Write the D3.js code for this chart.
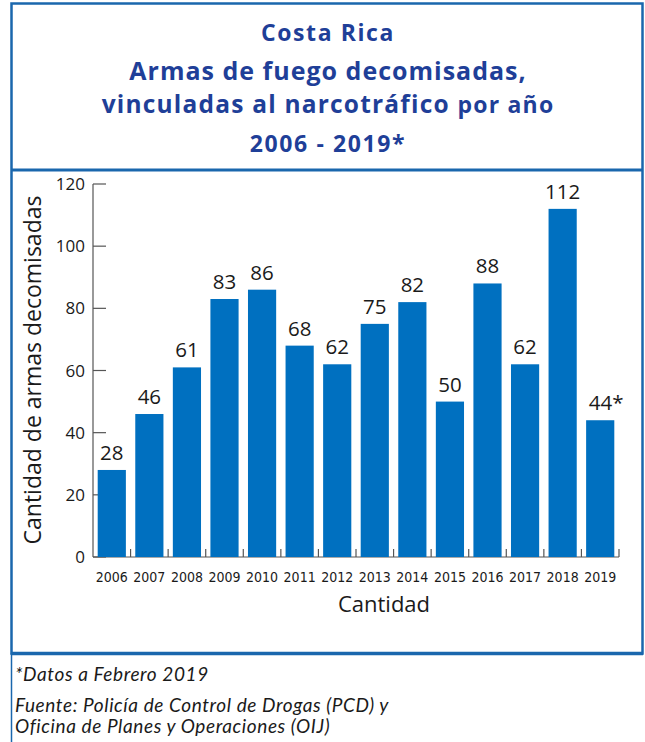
<!DOCTYPE html>
<html><head><meta charset="utf-8">
<script src="https://cdn.jsdelivr.net/npm/d3@7"></script>
<style>body{margin:0;background:#fff}svg{display:block}</style>
</head><body>
<script>
const years = ["2006","2007","2008","2009","2010","2011","2012","2013","2014","2015","2016","2017","2018","2019"];
const values = [28,46,61,83,86,68,62,75,82,50,88,62,112,44];
const valueLabels = ["28","46","61","83","86","68","62","75","82","50","88","62","112","44*"];
const yTicks = [0,20,40,60,80,100,120];
const titleLines = ["Costa Rica","Armas de fuego decomisadas,","vinculadas al narcotráfico  por año","2006 - 2019*"];
const notes = ["*Datos a Febrero 2019","Fuente: Policía de Control de Drogas (PCD) y","Oficina de Planes y Operaciones (OIJ)"];

const W=645,H=742;
const svg=d3.select("body").append("svg").attr("width",W).attr("height",H);
const border="#1a67ad", titleC="#1f3f98", barC="#0070c0", txt="#1a1a1a";

// frame
svg.append("rect").attr("x",11.5).attr("y",3.5).attr("width",631).attr("height",650).attr("fill","none").attr("stroke",border).attr("stroke-width",2.5);
svg.append("line").attr("x1",11.5).attr("x2",11.5).attr("y1",653).attr("y2",742).attr("stroke",border).attr("stroke-width",1.5);
svg.append("line").attr("x1",11).attr("x2",643).attr("y1",170).attr("y2",170).attr("stroke",border).attr("stroke-width",3);
svg.append("line").attr("x1",11).attr("x2",643).attr("y1",653.5).attr("y2",653.5).attr("stroke",border).attr("stroke-width",3.5);

// titles
const tY=[41,80,113,152], tS=[23,25,24.5,23], tLS=[1.6,1.0,1.2,1.6];
titleLines.forEach((t,i)=>{
  const el=svg.append("text").attr("x",328).attr("y",tY[i]).attr("text-anchor","middle")
    .attr("font-family","'Open Sans', Lato, sans-serif").attr("font-weight","bold").attr("font-size",tS[i])
    .attr("letter-spacing",tLS[i]).attr("fill",titleC);
  if(i===2){
    el.append("tspan").text("vinculadas al narcotráfico  ");
    el.append("tspan").attr("font-size",23).text("por año");
  } else el.text(t);
});

const x=d3.scaleBand().domain(years).range([93,619]).paddingInner(0.25).paddingOuter(0.125);
const y=d3.scaleLinear().domain([0,120]).range([557,184]);

const g=svg.append("g");
// y axis
g.append("line").attr("x1",93).attr("x2",93).attr("y1",y(120)).attr("y2",y(0)).attr("stroke","#555").attr("stroke-width",1.2);
yTicks.forEach(v=>{
  g.append("line").attr("x1",93).attr("x2",106).attr("y1",y(v)).attr("y2",y(v)).attr("stroke","#555").attr("stroke-width",1.2);
  g.append("text").attr("x",85).attr("y",y(v)+6).attr("text-anchor","end").attr("font-family","'Open Sans', sans-serif").attr("font-size",17).attr("fill",txt).text(v);
});
// x axis
g.append("line").attr("x1",93).attr("x2",619).attr("y1",y(0)).attr("y2",y(0)).attr("stroke","#555").attr("stroke-width",1.2);
years.forEach((yr,i)=>{
  const bx=x(yr)+x.bandwidth()/2+x.step()/2;
  g.append("line").attr("x1",bx).attr("x2",bx).attr("y1",y(0)).attr("y2",y(0)-8).attr("stroke","#555").attr("stroke-width",1.2);
});
// bars
g.selectAll("rect.bar").data(years).join("rect").attr("class","bar")
  .attr("x",d=>x(d)).attr("width",x.bandwidth())
  .attr("y",(d,i)=>y(values[i])).attr("height",(d,i)=>y(0)-y(values[i])).attr("fill",barC);
g.selectAll("text.val").data(years).join("text").attr("class","val")
  .attr("x",d=>x(d)+x.bandwidth()/2+(d==="2019"?6:0)).attr("y",(d,i)=>y(values[i])-10)
  .attr("text-anchor","middle").attr("font-family","'Open Sans', sans-serif").attr("font-size",20.5).attr("fill",txt)
  .text((d,i)=>valueLabels[i]);
g.selectAll("text.yr").data(years).join("text").attr("class","yr")
  .attr("x",d=>x(d)+x.bandwidth()/2).attr("y",582)
  .attr("text-anchor","middle").attr("font-family","'Liberation Sans Narrow', 'DejaVu Sans Condensed', sans-serif").attr("font-size",14).attr("fill",txt)
  .text(d=>d);
g.append("text").attr("x",384).attr("y",612).attr("text-anchor","middle").attr("font-family","'Open Sans', sans-serif").attr("font-size",22).attr("fill",txt).text("Cantidad");
g.append("text").attr("transform","translate(41,370) rotate(-90)").attr("text-anchor","middle").attr("font-family","'Open Sans', sans-serif").attr("font-size",23).attr("fill",txt).text("Cantidad de armas decomisadas");

// notes
const nY=[681,712,733];
notes.forEach((t,i)=>svg.append("text").attr("x",15).attr("y",nY[i]).attr("font-family","Lato, sans-serif").attr("font-style","italic").attr("font-size",19).attr("letter-spacing",0.6).attr("fill",txt).text(t));
</script>
</body></html>
